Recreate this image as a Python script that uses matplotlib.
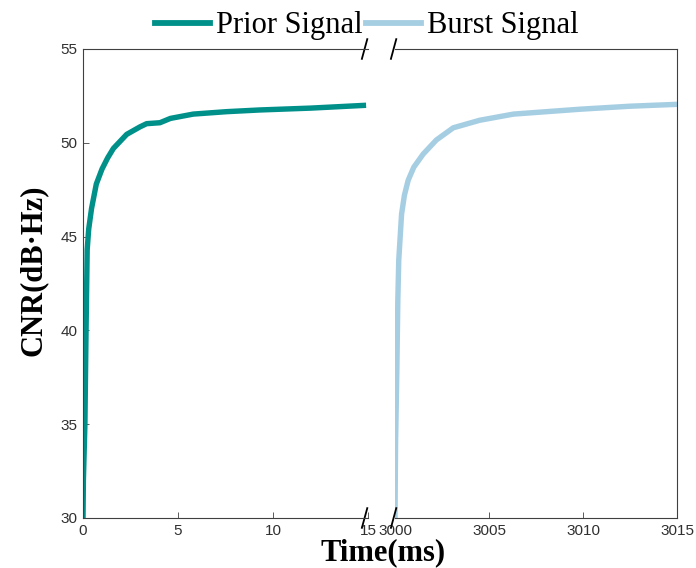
import numpy as np
import matplotlib
matplotlib.use("Agg")
import matplotlib.pyplot as plt
from matplotlib.lines import Line2D

# values
prior_t = [0, 0.02, 0.1, 0.16, 0.22, 0.3, 0.45, 0.7, 1.0, 1.3, 1.6, 2.3, 3.0,
           3.35, 4.05, 4.6, 5.8, 7.56, 9.3, 12, 14.9]
prior_cnr = [30, 32, 35, 40, 44.3, 45.4, 46.5, 47.8, 48.6, 49.2, 49.7, 50.45,
             50.85, 51.02, 51.07, 51.3, 51.53, 51.66, 51.75, 51.85, 52.0]

burst_t = [3000, 3000.03, 3000.1, 3000.15, 3000.2, 3000.35, 3000.5, 3000.7,
           3001.0, 3001.5, 3002.2, 3003.1, 3004.5, 3006.3, 3008.07, 3009.84,
           3012.5, 3015]
burst_cnr = [30, 34, 38, 41.6, 43.75, 46.2, 47.2, 48.0, 48.7, 49.4, 50.15,
             50.8, 51.2, 51.53, 51.66, 51.79, 51.95, 52.05]

left_xticks = [0, 5, 10, 15]
right_xticks = [3000, 3005, 3010, 3015]
yticks = [30, 35, 40, 45, 50, 55]

teal = '#00908A'
light_blue = '#A6CEE3'
axis_col = '#404040'
tick_font = 'Liberation Sans'
serif = 'Liberation Serif'

W, H = 696, 568
fig = plt.figure(figsize=(W / 100, H / 100), dpi=100)

# axes boxes in pixels (left, top, right, bottom)
def box(l, t, r, b):
    return [l / W, 1 - b / H, (r - l) / W, (b - t) / H]

ax1 = fig.add_axes(box(83, 49, 368, 518))
ax2 = fig.add_axes(box(395, 49, 677, 518))

ax1.plot(prior_t, prior_cnr, color=teal, lw=3.9, solid_capstyle='butt',
         solid_joinstyle='round')
ax2.plot(burst_t, burst_cnr, color=light_blue, lw=3.9, solid_capstyle='butt',
         solid_joinstyle='round')

ax1.set_xlim(0, 15)
ax2.set_xlim(3000, 3015)
for ax in (ax1, ax2):
    ax.set_ylim(30, 55)
    for s in ax.spines.values():
        s.set_color(axis_col)
        s.set_linewidth(0.8)
    ax.tick_params(direction='in', length=4, width=0.6, color=axis_col,
                   labelcolor='#303030', labelsize=11, pad=4)

ax1.set_xticks(left_xticks)
ax1.set_xticklabels([str(v) for v in left_xticks], fontfamily=tick_font)
ax1.set_yticks(yticks)
ax1.set_yticklabels([str(v) for v in yticks], fontfamily=tick_font)
ax1.spines['right'].set_visible(False)

ax2.set_xticks(right_xticks)
ax2.set_xticklabels([str(v) for v in right_xticks], fontfamily=tick_font)
ax2.set_yticks(yticks)
ax2.tick_params(axis='y', left=False, right=False, labelleft=False)
ax2.spines['left'].set_visible(False)

# break marks
d = 0.021
for ax, x0 in ((ax1, 0.988), (ax2, -0.005)):
    for y0 in (0, 1):
        ax.plot([x0 - d * 0.45, x0 + d * 0.45], [y0 - d, y0 + d],
                transform=ax.transAxes, color='black', lw=1.3, clip_on=False)

fig.text(33 / W, 1 - 270 / H, 'CNR(dB·Hz)', rotation=90, ha='center',
         va='center', fontsize=22, fontweight='bold', fontfamily=serif)
fig.text(383 / W, 1 - 553 / H, 'Time(ms)', ha='center', va='center',
         fontsize=22, fontweight='bold', fontfamily=serif)

handles = [Line2D([], [], color=teal, lw=4.2),
           Line2D([], [], color=light_blue, lw=4.2)]
fig.legend(handles, ['Prior Signal', 'Burst Signal'], loc='center',
           bbox_to_anchor=(367 / W, 1 - 26 / H), ncol=2, frameon=False,
           prop={'family': serif, 'size': 22}, handlelength=1.8,
           handletextpad=0.2, columnspacing=0.12, borderpad=0,
           borderaxespad=0)

fig.savefig('out.png', dpi=100)
